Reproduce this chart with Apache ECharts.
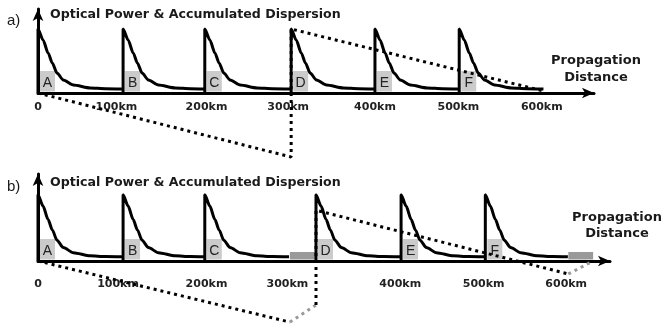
<!DOCTYPE html>
<html>
<head>
<meta charset="utf-8">
<script src="https://cdn.jsdelivr.net/npm/echarts@6/dist/echarts.min.js"></script>
<style>
html, body { margin: 0; padding: 0; background: #fff; }
#chart { width: 662px; height: 328px; }
</style>
</head>
<body>
<div id="chart"></div>
<script>
// power decay after each amplifier (km behind the amplifier, level)
var profileKm = [0, 6, 12, 17, 22.5, 30, 42, 62, 80];
var profilePow = [64, 53, 40, 30, 20, 13, 8, 5, 4.3];
var spanEndPow = 4;

// amplifier spans [start, end] in km
var spansA = [[0, 101], [101, 198], [198, 300.5], [300.5, 400], [400, 500], [500, 600]];
var spansB = [[0, 101], [101, 198], [198, 298], [330, 431], [431, 531], [531, 629]];
var letters = ['A', 'B', 'C', 'D', 'E', 'F'];

// accumulated dispersion
var dispA = [[0, 0], [300.5, -64], [300.5, 64], [600, 2]];
var dispB1 = [[0, 0], [299, -59]];
var dispBComp1 = [[299, -59], [330, -42.5]];
var dispB2 = [[330, -42.5], [330, 49], [629.5, -12.5]];
var dispBComp2 = [[629.5, -12.5], [659, 0]];

// compensation modules in b) [start, end] km
var dcfB = [[299, 329], [629.5, 659]];

var tickValuesA = [0, 93, 200, 297, 400, 499, 598];
var tickValuesB = [0, 95, 200, 296, 430, 529, 627];
var tickLabels = ['0', '100km', '200km', '300km', '400km', '500km', '600km'];

var FONT = '"Liberation Sans", Arial, sans-serif';
var BOLD = '"DejaVu Sans", Verdana, sans-serif';

function spanData(s) {
    var d = [[s[0], 0]];
    for (var i = 0; i < profileKm.length; i++) {
        d.push([s[0] + profileKm[i], profilePow[i]]);
    }
    d.push([s[1], spanEndPow]);
    return d;
}

function powerSeries(spans, idx) {
    return spans.map(function (s) {
        return {
            type: 'line', xAxisIndex: idx, yAxisIndex: idx,
            data: spanData(s),
            symbol: 'none', smooth: 0.25, smoothMonotone: 'x',
            lineStyle: { color: '#000', width: 3 },
            z: 4
        };
    });
}

function dotted(data, idx, color) {
    return {
        type: 'line', xAxisIndex: idx, yAxisIndex: idx,
        data: data, symbol: 'none', clip: false,
        lineStyle: { color: color, width: 3, type: [3, 4] },
        z: 3
    };
}

function boxSeries(spans, idx) {
    return {
        type: 'custom', xAxisIndex: idx, yAxisIndex: idx,
        data: spans.map(function (s) { return [s[0], 0]; }),
        z: 2,
        renderItem: function (params, api) {
            var p = api.coord([api.value(0), 0]);
            var w = 15, h = 22;
            return {
                type: 'group',
                children: [
                    { type: 'rect', shape: { x: p[0] + 2, y: p[1] - h, width: w, height: h - 1.5 }, style: { fill: '#cbcbcb' } },
                    { type: 'text', style: { text: letters[params.dataIndex], x: p[0] + 2 + w / 2, y: p[1] - h / 2 + 1, align: 'center', verticalAlign: 'middle', font: '14px ' + FONT, fill: '#222' } }
                ]
            };
        }
    };
}

function dcfSeries(mods, idx) {
    return {
        type: 'custom', xAxisIndex: idx, yAxisIndex: idx,
        data: mods,
        z: 2,
        renderItem: function (params, api) {
            var p0 = api.coord([api.value(0), 0]);
            var p1 = api.coord([api.value(1), 0]);
            return { type: 'rect', shape: { x: p0[0], y: p0[1] - 9, width: p1[0] - p0[0], height: 7.5 }, style: { fill: '#999' } };
        }
    };
}

function xAxis(idx, max, ticks, margin) {
    return {
        gridIndex: idx, type: 'value', min: 0, max: max,
        axisLine: { lineStyle: { color: '#000', width: 3 }, symbol: ['none', 'arrow'], symbolSize: [8, 12] },
        axisTick: { show: false },
        splitLine: { show: false },
        axisLabel: {
            customValues: ticks,
            margin: margin,
            fontSize: 11, fontWeight: 'bold', color: '#222', fontFamily: BOLD,
            formatter: function (v) {
                var i = ticks.indexOf(v);
                return i < 0 ? '' : tickLabels[i];
            }
        }
    };
}

function yAxis(idx) {
    return {
        gridIndex: idx, type: 'value', min: 0, max: 84,
        axisLine: { show: true, lineStyle: { color: '#000', width: 3 }, symbol: ['none', 'arrow'], symbolSize: [8, 12] },
        axisTick: { show: false },
        axisLabel: { show: false },
        splitLine: { show: false }
    };
}

function txt(text, x, y, font, align) {
    return {
        type: 'text', x: x, y: y,
        style: { text: text, align: align, verticalAlign: 'middle', font: font, fill: '#1a1a1a' }
    };
}

var myChart = echarts.init(document.getElementById('chart'));
var option = {
    animation: false,
    grid: [
        { left: 38, top: 9, width: 556, height: 84 },
        { left: 38, top: 174, width: 572, height: 87 }
    ],
    xAxis: [xAxis(0, 660, tickValuesA, 9), xAxis(1, 679, tickValuesB, 18)],
    yAxis: [yAxis(0), yAxis(1)],
    graphic: [
        txt('a)', 7, 21, '15px ' + FONT, 'left'),
        txt('b)', 7, 186.5, '15px ' + FONT, 'left'),
        txt('Optical Power & Accumulated Dispersion', 50, 15, 'bold 12.6px ' + BOLD, 'left'),
        txt('Optical Power & Accumulated Dispersion', 50, 182.5, 'bold 12.6px ' + BOLD, 'left'),
        txt('Propagation', 596, 61, 'bold 13px ' + BOLD, 'center'),
        txt('Distance', 596, 78, 'bold 13px ' + BOLD, 'center'),
        txt('Propagation', 617, 218, 'bold 13px ' + BOLD, 'center'),
        txt('Distance', 617, 234, 'bold 13px ' + BOLD, 'center')
    ],
    series: [].concat(
        [boxSeries(spansA, 0), boxSeries(spansB, 1), dcfSeries(dcfB, 1)],
        [dotted(dispA, 0, '#000'), dotted(dispB1, 1, '#000'), dotted(dispBComp1, 1, '#999'),
         dotted(dispB2, 1, '#000'), dotted(dispBComp2, 1, '#999')],
        powerSeries(spansA, 0),
        powerSeries(spansB, 1)
    )
};
myChart.setOption(option);
</script>
</body>
</html>
